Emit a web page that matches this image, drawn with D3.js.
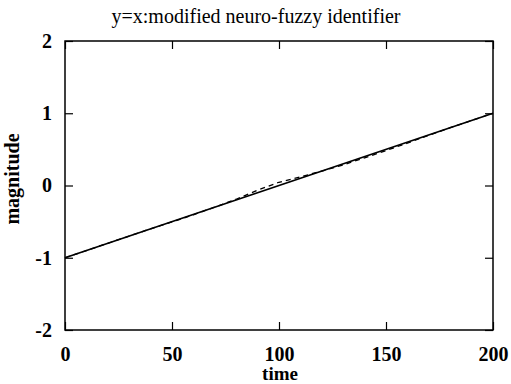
<!DOCTYPE html>
<html><head><meta charset="utf-8">
<script src="https://d3js.org/d3.v7.min.js"></script>
<style>body{margin:0;background:#fff} svg text{font-family:"Liberation Serif","DejaVu Serif",serif;}</style>
</head><body>
<script>
const xTicks = [0, 50, 100, 150, 200];
const yTicks = [-2, -1, 0, 1, 2];
const solidT = [0, 200];
const solidY = [-1, 1];
const dashT = [0, 10, 20, 30, 40, 50, 60, 70, 80, 90, 100, 110, 120, 130, 140, 150, 160, 170, 180, 190, 200];
const dashY = [-1.0, -0.9, -0.8, -0.7, -0.6, -0.505, -0.405, -0.3, -0.19, -0.065, 0.045, 0.12, 0.2, 0.285, 0.383, 0.483, 0.587, 0.695, 0.8, 0.9, 1.0];

(function () {
const W = 511, H = 384;
const m = {l: 65, r: 493, t: 41, b: 330};
const svg = d3.select("body").append("svg").attr("width", W).attr("height", H);
const x = d3.scaleLinear().domain([0, 200]).range([m.l, m.r]);
const y = d3.scaleLinear().domain([-2, 2]).range([m.b, m.t]);

svg.append("rect").attr("x", m.l).attr("y", m.t).attr("width", m.r - m.l).attr("height", m.b - m.t)
  .attr("fill", "none").attr("stroke", "#000").attr("stroke-width", 1.5);

const tl = 8;
const fmt = d => String(d);
const gB = svg.append("g").attr("transform", `translate(0,${m.b})`)
  .call(d3.axisBottom(x).tickValues(xTicks).tickFormat(fmt).tickSizeInner(-tl).tickSizeOuter(0).tickPadding(17));
const gT = svg.append("g").attr("transform", `translate(0,${m.t})`)
  .call(d3.axisTop(x).tickValues(xTicks).tickSizeInner(-tl).tickSizeOuter(0).tickFormat(""));
const gL = svg.append("g").attr("transform", `translate(${m.l},0)`)
  .call(d3.axisLeft(y).tickValues(yTicks).tickFormat(fmt).tickSizeInner(-tl).tickSizeOuter(0).tickPadding(13));
const gR = svg.append("g").attr("transform", `translate(${m.r},0)`)
  .call(d3.axisRight(y).tickValues(yTicks).tickSizeInner(-tl).tickSizeOuter(0).tickFormat(""));
[gB, gT, gL, gR].forEach(g => {
  g.select(".domain").remove();
  g.attr("font-family", null).attr("font-size", null);
  g.selectAll("line").attr("stroke", "#000").attr("stroke-width", 1.2);
  g.selectAll("text").style("font-size", "20px").style("font-weight", "bold").attr("fill", "#000");
});

const line = d3.line().x(d => x(d[0])).y(d => y(d[1]));
svg.append("path").datum(dashT.map((t, i) => [t, dashY[i]])).attr("d", line)
  .attr("fill", "none").attr("stroke", "#000").attr("stroke-width", 1.3).attr("stroke-dasharray", "5,4");
svg.append("path").datum(solidT.map((t, i) => [t, solidY[i]])).attr("d", line)
  .attr("fill", "none").attr("stroke", "#000").attr("stroke-width", 1.8);

svg.append("text").attr("x", 256).attr("y", 23).attr("text-anchor", "middle")
  .style("font-size", "20px").attr("fill", "#000")
  .text("y=x:modified neuro-fuzzy identifier");
svg.append("text").attr("x", 280).attr("y", 380).attr("text-anchor", "middle")
  .style("font-size", "19px").style("font-weight", "bold").attr("fill", "#000")
  .text("time");
svg.append("text").attr("transform", `translate(19,179) rotate(-90)`).attr("text-anchor", "middle")
  .style("font-size", "20px").style("font-weight", "bold").attr("fill", "#000")
  .text("magnitude");
})();
</script>
</body></html>
